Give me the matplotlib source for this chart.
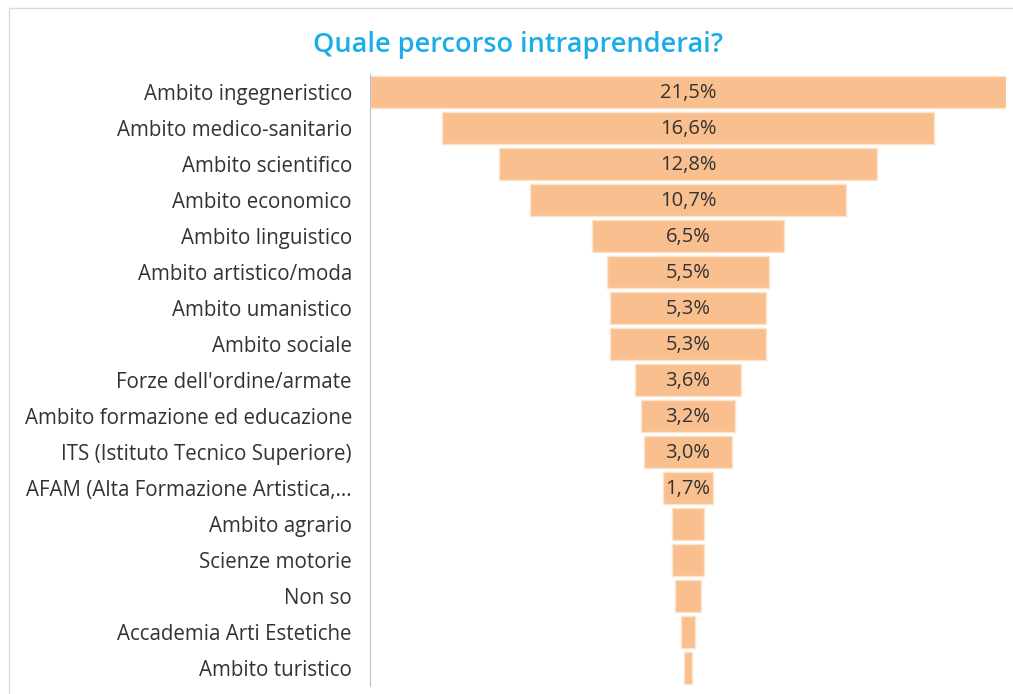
import matplotlib.pyplot as plt
from matplotlib.patches import Rectangle

categories = [
    "Ambito ingegneristico",
    "Ambito medico-sanitario",
    "Ambito scientifico",
    "Ambito economico",
    "Ambito linguistico",
    "Ambito artistico/moda",
    "Ambito umanistico",
    "Ambito sociale",
    "Forze dell'ordine/armate",
    "Ambito formazione ed educazione",
    "ITS (Istituto Tecnico Superiore)",
    "AFAM (Alta Formazione Artistica,...",
    "Ambito agrario",
    "Scienze motorie",
    "Non so",
    "Accademia Arti Estetiche",
    "Ambito turistico",
]
values = [21.5, 16.6, 12.8, 10.7, 6.5, 5.5, 5.3, 5.3, 3.6, 3.2, 3.0, 1.7, 1.1, 1.1, 0.9, 0.5, 0.3]
show_label = [v >= 1.5 for v in values]

plt.rcParams['font.family'] = ['Open Sans', 'DejaVu Sans']

W, H = 1013, 694
fig = plt.figure(figsize=(W / 100, H / 100), dpi=100)
ax = fig.add_axes([370 / W, 1 - 686 / H, 636 / W, 612 / H])

ys = list(range(len(values)))
lefts = [-v / 2 for v in values]
ax.barh(ys, values, left=lefts, height=0.89, color='#F9BF8F',
        edgecolor='#FCE3CB', linewidth=1.0)
for y, v, s in zip(ys, values, show_label):
    if s:
        ax.text(0, y + 0.03, f"{v:.1f}%".replace('.', ','), ha='center', va='center',
                fontsize=14.5, color='#333333')

m = max(values) / 2
ax.set_xlim(-m, m)
ax.set_ylim(len(values) - 0.5, -0.5)
ax.set_yticks(ys)
ax.set_yticklabels(categories, fontsize=14.8, color='#333333')
ax.tick_params(axis='y', length=0, pad=13)
ax.set_xticks([])
for s in ['top', 'right', 'bottom']:
    ax.spines[s].set_visible(False)
ax.spines['left'].set_color('#BFBFBF')
ax.spines['left'].set_linestyle((0, (2, 1)))
ax.spines['left'].set_linewidth(0.8)

fig.text(518 / W, 1 - 45 / H, "Quale percorso intraprenderai?", ha='center', va='center',
         fontsize=19.5, color='#1BADE8', fontweight='semibold')

fig.patches.append(Rectangle((9 / W, -0.1), 1.2, 1 - 8 / H + 0.1, transform=fig.transFigure,
                             fill=False, edgecolor='#D9D9D9', linewidth=1.0))

fig.savefig('out.png', dpi=100)
